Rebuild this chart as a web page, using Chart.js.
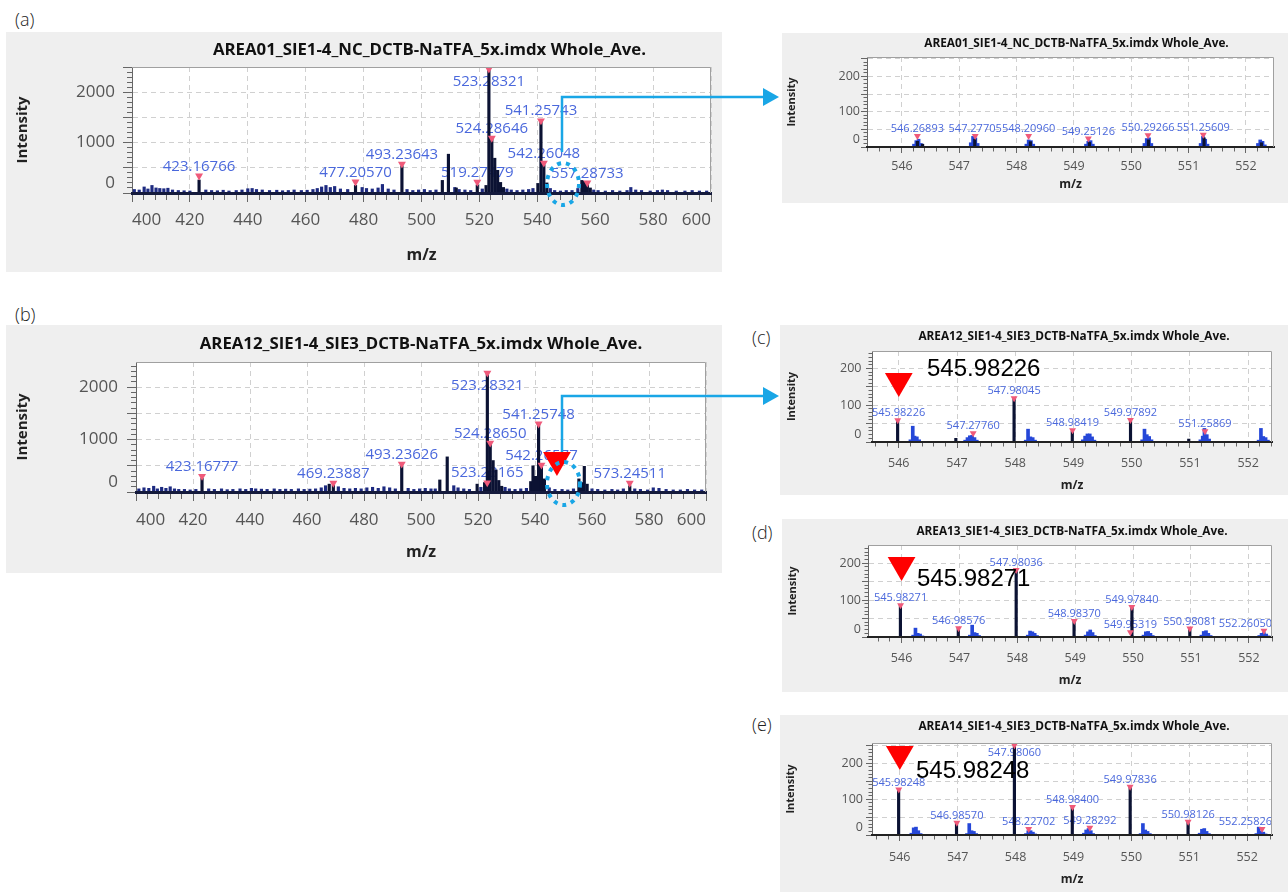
<!DOCTYPE html>
<html><head><meta charset="utf-8">
<script src="https://cdn.jsdelivr.net/npm/chart.js@4.4.1/dist/chart.umd.min.js"></script>
<style>
html,body{margin:0;padding:0;background:#fff;}
body{width:1288px;height:892px;position:relative;overflow:hidden;font-family:'Open Sans',sans-serif;}
.box{position:absolute;background:#efefef;}
.box canvas{display:block;}
.tag{position:absolute;font-size:18px;font-weight:300;color:#222;line-height:20px;}
.big{position:absolute;font-family:'Liberation Sans',Arial,sans-serif;font-size:24px;line-height:24px;color:#000;}
svg{position:absolute;left:0;top:0;pointer-events:none;}
</style></head><body>

<div class="tag" style="left:15px;top:9px">(a)</div>
<div class="tag" style="left:15px;top:304px">(b)</div>
<div class="tag" style="left:752px;top:327px">(c)</div>
<div class="tag" style="left:752px;top:522px">(d)</div>
<div class="tag" style="left:752px;top:714px">(e)</div>

<div class="box" style="left:6px;top:32px;width:716px;height:240px"><canvas id="cA" width="716" height="240"></canvas></div>
<div class="box" style="left:6px;top:325px;width:716px;height:248px"><canvas id="cB" width="716" height="248"></canvas></div>
<div class="box" style="left:782px;top:33px;width:506px;height:170px"><canvas id="cZ" width="506" height="170"></canvas></div>
<div class="box" style="left:780px;top:325px;width:508px;height:170px"><canvas id="cC" width="508" height="170"></canvas></div>
<div class="box" style="left:782px;top:519px;width:506px;height:173px"><canvas id="cD" width="506" height="173"></canvas></div>
<div class="box" style="left:780px;top:715px;width:508px;height:177px"><canvas id="cE" width="508" height="177"></canvas></div>

<div class="big" id="bigC" style="left:927px;top:356px"></div>
<div class="big" id="bigD" style="left:917px;top:566px"></div>
<div class="big" id="bigE" style="left:916px;top:758px"></div>

<svg width="1288" height="892">
  <g fill="none" stroke="#19a6e6">
    <ellipse cx="563" cy="184" rx="16" ry="21" stroke-width="4" stroke-dasharray="4 5"/>
    <polyline points="562,152 562,97 766,97" stroke-width="2.5"/>
    <ellipse cx="563.5" cy="483.5" rx="16.5" ry="21.5" stroke-width="4" stroke-dasharray="4 5"/>
    <polyline points="562,452 562,396 766,396" stroke-width="2.5"/>
  </g>
  <polygon points="763,88 779,97 763,106" fill="#19a6e6"/>
  <polygon points="763,387 779,396 763,405" fill="#19a6e6"/>
</svg>

<script>
// ---------- tick labels ----------
const wideXLabels = [400,420,440,460,480,500,520,540,560,580,600];
const wideYLabels = [0,1000,2000];
const zoomXLabels = [546,547,548,549,550,551,552];
const zoomYLabels = [0,100,200];

// ---------- titles ----------
const A_title = 'AREA01_SIE1-4_NC_DCTB-NaTFA_5x.imdx Whole_Ave.';
const B_title = 'AREA12_SIE1-4_SIE3_DCTB-NaTFA_5x.imdx Whole_Ave.';
const Z_title = 'AREA01_SIE1-4_NC_DCTB-NaTFA_5x.imdx Whole_Ave.';
const C_title = 'AREA12_SIE1-4_SIE3_DCTB-NaTFA_5x.imdx Whole_Ave.';
const D_title = 'AREA13_SIE1-4_SIE3_DCTB-NaTFA_5x.imdx Whole_Ave.';
const E_title = 'AREA14_SIE1-4_SIE3_DCTB-NaTFA_5x.imdx Whole_Ave.';

// ---------- panel (a) ----------
const A_noiseX = [400.8,402.5,404.2,405.5,406.9,408.3,409.6,411.0,412.4,414.0,
                  416.0,418.0,420.0,425.5,427.5,429.5,431.5,433.5,436.0,438.0,
                  440.0,441.5,443.0,445.0,447.5,450.0,452.0,454.0,456.0,458.5,
                  460.5,462.5,464.0,465.5,467.0,468.5,470.0,472.0,474.5,479.5,
                  481.0,483.0,485.0,486.5,488.5,490.5,495.0,497.0,499.0,501.0,
                  503.0,505.0,511.5,513.0,515.0,517.0,521.0,529.5,531.0,533.0,
                  535.0,537.0,538.5,544.5,546.0,548.0,550.0,552.0,554.0,559.5,
                  561.0,563.5,566.0,568.5,571.0,572.3,574.0,576.0,579.0,581.5,
                  583.2,585.0,588.0,591.0,593.5,596.0,598.5];
const A_noiseY = [70,60,120,80,150,100,90,85,95,60,
                  50,45,40,60,50,45,55,40,50,60,
                  85,90,70,60,50,55,45,50,60,50,
                  55,70,90,120,150,110,130,80,70,110,
                  90,80,100,170,80,60,70,50,60,70,
                  50,60,110,70,60,50,80,80,60,50,
                  60,70,90,90,50,40,50,50,90,60,
                  50,40,50,40,50,110,60,50,40,50,
                  60,50,40,40,50,40,40];
const A_peakX = [423.17,477.21,493.24,507.2,509.3,512.0,519.27,522.3,523.28,524.29,525.3,526.3,527.3,528.3,540.2,541.26,542.26,543.3,555.4,556.3,557.29,558.3];
const A_peakY = [258,150,540,250,770,100,160,150,2470,1080,690,450,210,110,190,1430,560,200,250,230,170,100];
const A_labText = ['423.16766','477.20570','493.23643','519.27479','523.28321','524.28646','541.25743','542.26048','557.28733'];
const A_labX = [423.16766,477.2057,493.23643,519.27479,523.28321,524.28646,541.25743,542.26048,557.28733];
const A_labY = [340,220,575,215,2460,1090,1434,595,200];

// ---------- panel (b) ----------
const B_noiseX = [401.0,402.8,404.5,406.2,407.5,409.0,410.5,412.0,413.5,415.0,
                  417.0,419.0,421.0,425.5,427.5,430.0,432.0,434.0,436.5,438.5,
                  440.5,442.0,444.0,446.0,448.5,450.5,452.5,454.5,457.0,459.0,
                  461.0,463.0,465.0,466.5,471.0,473.0,475.0,477.0,479.0,481.0,
                  483.0,485.0,487.0,489.0,491.0,495.5,497.5,499.5,501.5,503.5,
                  505.0,511.5,513.0,515.0,517.0,521.0,529.5,531.0,533.0,535.0,
                  537.0,545.0,547.0,549.5,551.5,553.5,560.0,562.0,564.5,567.0,
                  569.0,571.0,575.0,577.0,579.5,581.5,583.5,586.0,588.5,591.0,
                  593.5,596.0,598.5];
const B_noiseY = [60,80,70,110,60,90,70,100,60,50,
                  50,40,50,60,50,60,45,50,60,50,
                  70,60,55,50,60,50,55,50,60,50,
                  55,60,80,120,100,70,60,70,60,80,
                  90,70,100,80,60,70,50,60,70,60,
                  60,120,80,60,50,90,90,60,50,60,
                  70,80,50,50,40,60,60,50,40,50,
                  40,60,60,50,40,80,70,50,40,40,
                  50,40,40];
const B_peakX = [423.17,467.8,469.24,493.24,506.6,509.2,519.7,522.3,523.28,523.9,524.29,525.3,526.3,527.3,528.3,538.5,539.3,540.2,541.26,542.26,543.3,555.4,556.3,557.3,558.3,573.25];
const B_peakY = [260,150,130,500,230,670,150,180,2290,400,920,600,420,220,110,200,500,300,1290,480,250,250,180,490,150,120];
const B_labText = ['423.16777','469.23887','493.23626','523.28321','523.23165','524.28650','541.25748','542.26577','573.24511'];
const B_labX = [423.16777,469.23887,493.23626,523.28321,523.23165,524.2865,541.25748,542.26577,573.24511];
const B_labY = [300,170,534,2270,177,935,1300,515,170];
const B_bigX = [547.7];
const B_bigY = [610];

// ---------- top-right zoom of (a) ----------
const Z_blueX = [546.21,546.25,546.29,546.33, 547.20,547.24,547.28,547.32, 548.17,548.21,548.25,548.29,
                 549.21,549.25,549.29,549.33, 550.23,550.27,550.31,550.35, 551.21,551.25,551.29,551.33,
                 552.21,552.25,552.29,552.33];
const Z_blueY = [8,18,22,10, 12,30,26,10, 8,20,18,8, 8,16,18,8, 10,24,26,10, 10,30,22,8, 10,20,16,6];
const Z_peakX = [546.27,546.36,547.27,548.24,549.27,550.30,551.27,552.27];
const Z_peakY = [16,8,22,15,13,20,26,12];
const Z_labText = ['546.26893','547.27705','548.20960','549.25126','550.29266','551.25609'];
const Z_labX = [546.26893,547.27705,548.2096,549.25126,550.29266,551.25609];
const Z_labY = [31,31,31,24,33,35];

// ---------- panel (c) ----------
const C_peakX = [545.98,546.98,547.98,548.98,549.98,550.98];
const C_peakY = [56,10,117,29,57,8];
const C_blueX = [546.20,546.24,546.27,546.31,546.35, 547.14,547.18,547.22,547.26,547.30,547.34,
                 548.18,548.22,548.26,548.30,548.34, 549.16,549.20,549.24,549.28,549.32,549.36,
                 550.18,550.22,550.26,550.30,550.34, 551.18,551.22,551.25,551.29,551.33,
                 552.18,552.22,552.26,552.30,552.34];
const C_blueY = [6,43,16,14,6, 5,12,17,18,12,5, 5,35,14,12,5, 6,16,22,22,14,5, 6,35,20,15,6, 6,16,37,20,8, 5,37,15,12,5];
const C_labText = ['545.98226','547.27760','547.98045','548.98419','549.97892','551.25869'];
const C_labX = [545.98226,547.2776,547.98045,548.98419,549.97892,551.25869];
const C_labY = [59,24,119,32,60,29];
const C_bigX = [546.0];
const C_bigY = [166];
const C_bigText = '545.98226';

// ---------- panel (d) ----------
const D_peakX = [545.98,546.98,547.98,548.98,549.98,550.98];
const D_peakY = [86,24,181,43,81,21];
const D_blueX = [546.20,546.24,546.28,546.32,546.36, 547.18,547.22,547.26,547.30,547.34,
                 548.18,548.22,548.26,548.30,548.34, 549.18,549.22,549.26,549.30,549.34,
                 550.18,550.22,550.26,550.30,550.34, 551.18,551.22,551.26,551.30,551.34,
                 552.18,552.22,552.26,552.30,552.34];
const D_blueY = [5,24,10,8,3, 5,32,12,10,4, 5,16,14,10,4, 5,14,19,12,4, 5,14,15,10,4, 5,15,17,10,4, 4,10,12,8,3];
const D_labText = ['545.98271','546.98576','547.98036','548.98370','549.95319','549.97840','550.98081','552.26050'];
const D_labX = [545.98271,546.98576,547.98036,548.9837,549.95319,549.9784,550.98081,552.2605];
const D_labY = [86,24,181,43,13,81,23,17];
const D_bigX = [546.0];
const D_bigY = [195];
const D_bigText = '545.98271';

// ---------- panel (e) ----------
const E_peakX = [545.98,546.98,547.98,548.98,549.98,550.98];
const E_peakY = [126,34,251,78,135,37];
const E_blueX = [546.20,546.24,546.28,546.32,546.36, 547.16,547.20,547.24,547.28,547.32,
                 548.18,548.22,548.26,548.30,548.34, 549.18,549.22,549.26,549.30,549.34,
                 550.16,550.20,550.24,550.28,550.32, 551.18,551.22,551.26,551.30,551.34,
                 552.16,552.20,552.24,552.28,552.32];
const E_blueY = [5,20,22,12,4, 4,32,12,10,4, 4,12,12,8,3, 5,14,18,12,4, 4,32,14,10,4, 5,16,18,10,4, 4,22,10,8,3];
const E_labText = ['545.98248','546.98570','547.98060','548.22702','548.98400','549.28292','549.97836','550.98126','552.25826'];
const E_labX = [545.98248,546.9857,547.9806,548.22702,548.984,549.28292,549.97836,550.98126,552.25826];
const E_labY = [127,34,251,17,78,20,135,37,17];
const E_bigX = [546.0];
const E_bigY = [226];
const E_bigText = '545.98248';

document.getElementById('bigC').textContent = C_bigText;
document.getElementById('bigD').textContent = D_bigText;
document.getElementById('bigE').textContent = E_bigText;

// ---------- drawing ----------
Chart.defaults.font.family = "'Open Sans', sans-serif";
Chart.defaults.color = '#555';

const FONT = "'Open Sans', sans-serif";
const zip = (xs, ys) => xs.map((x, i) => ({x: x, y: ys[i]}));
const isMaj = (v, m) => Math.abs(v / m - Math.round(v / m)) < 1e-6;
const near = (arr, v) => arr.some(a => Math.abs(a - v) < 1e-6);
function stepTicks(min, max, step) {
  const out = [];
  for (let k = Math.ceil(min / step - 1e-9); k * step <= max + 1e-9; k++) out.push(+(k * step).toFixed(4));
  return out;
}

const WIDE = {xStep:4, xMajor:20, yStep:100, yGrid:500, tl:9, tlMinor:5, tickFs:17, xAlign:'inner',
  ytFs:15, xtFs:16, titleFs:16.8, labFs:15, labOff:9.5, labBelow:12.5, markR:4.6, peakW:2.5, noiseW:2.5,
  axisW:3, axisColor:'#141a3c', xLabels:wideXLabels, yLabels:wideYLabels, titleDx:0};
const ZOOM = {xStep:0.2, xMajor:1, yStep:10, yGrid:50, tl:6, tlMinor:3.5, tickFs:12.5, xAlign:'center',
  ytFs:11, xtFs:12, titleFs:11.8, labFs:11, labOff:7, labBelow:8, markR:4, peakW:2.5, blueW:3,
  axisW:2, axisColor:'#222', xLabels:zoomXLabels, yLabels:zoomYLabels, titleDx:2};

function deco(P) {
  return {
    id: 'deco_' + P.id,
    beforeDraw(chart) {
      const {ctx, chartArea: ca} = chart;
      ctx.save(); ctx.fillStyle = '#ffffff';
      ctx.fillRect(ca.left, ca.top, ca.right - ca.left, ca.bottom - ca.top);
      ctx.restore();
    },
    beforeDatasetsDraw(chart) {
      const {ctx, chartArea: ca, scales: {x, y}} = chart;
      ctx.save();
      ctx.beginPath(); ctx.rect(ca.left, ca.top, ca.right - ca.left, ca.bottom - ca.top); ctx.clip();
      ctx.font = P.labFs + 'px ' + FONT;
      ctx.fillStyle = '#4a68dc'; ctx.textAlign = 'center'; ctx.textBaseline = 'middle';
      P.labText.forEach((t, i) => {
        const px = x.getPixelForValue(P.labX[i]), py = y.getPixelForValue(P.labY[i]);
        const w = ctx.measureText(t).width;
        const cx = Math.min(Math.max(px, ca.left + w / 2), ca.right - w / 2);
        let cy = py - P.labOff;
        if (cy - P.labFs * 0.6 < ca.top) cy = py + P.labBelow;
        ctx.fillText(t, cx, cy);
      });
      ctx.restore();
    },
    afterDraw(chart) {
      const {ctx, chartArea: ca} = chart;
      ctx.save();
      ctx.strokeStyle = '#a0a0a0'; ctx.lineWidth = 1;
      ctx.beginPath();
      ctx.moveTo(ca.left, ca.top + 0.5); ctx.lineTo(ca.right - 0.5, ca.top + 0.5); ctx.lineTo(ca.right - 0.5, ca.bottom);
      ctx.stroke();
      ctx.font = 'bold ' + P.titleFs + 'px ' + FONT;
      ctx.fillStyle = '#111'; ctx.textAlign = 'center'; ctx.textBaseline = 'middle';
      ctx.fillText(P.title, (ca.left + ca.right) / 2 + P.titleDx, P.titleY);
      ctx.restore();
    }
  };
}

function panel(P) {
  const ds = [];
  if (P.noiseX) ds.push({type:'bar', data: zip(P.noiseX, P.noiseY), backgroundColor:'#1d2a80', barThickness:P.noiseW, grouped:false, order:4});
  if (P.blueX) ds.push({type:'bar', data: zip(P.blueX, P.blueY), backgroundColor:'#2547d8', barThickness:P.blueW, grouped:false, order:3});
  ds.push({type:'bar', data: zip(P.peakX, P.peakY), backgroundColor:'#0b1233', barThickness:P.peakW, grouped:false, order:2});
  ds.push({type:'scatter', data: zip(P.labX, P.labY), pointStyle:'triangle', pointRotation:180, pointRadius:P.markR,
           pointBackgroundColor:'#ef5a7a', pointBorderWidth:0, order:1});
  if (P.bigX) ds.push({type:'scatter', data: zip(P.bigX, P.bigY), pointStyle:'triangle', pointRotation:180, pointRadius:16,
           pointBackgroundColor:'#ff0000', pointBorderWidth:0, order:0});
  const xTicks = stepTicks(P.xmin, P.xmax, P.xStep);
  const yTicks = stepTicks(P.ymin, P.ymax, P.yStep);
  new Chart(document.getElementById(P.id), {
    type: 'bar',
    data: {datasets: ds},
    plugins: [deco(P)],
    options: {
      responsive: false, animation: false, events: [],
      layout: {padding: {top: P.padTop, right: P.padRight, left: 0, bottom: 0}},
      plugins: {legend: {display: false}, tooltip: {enabled: false}, title: {display: false}},
      scales: {
        x: {
          type: 'linear', min: P.xmin, max: P.xmax, offset: false,
          afterBuildTicks: s => { s.ticks = xTicks.map(v => ({value: v})); },
          afterFit: s => { s.height = P.xAxisH; },
          ticks: {autoSkip: false, maxRotation: 0, minRotation: 0, align: P.xAlign, padding: P.xPad, color: '#555',
                  font: {size: P.tickFs}, callback: v => near(P.xLabels, v) ? String(Math.round(v)) : ''},
          grid: {offset: false,
                 color: c => (c.tick && isMaj(c.tick.value, P.xMajor)) ? '#d0d0d0' : 'rgba(0,0,0,0)',
                 tickColor: '#666', tickLength: P.tl, tickWidth: 1,
                 tickBorderDash: c => (c.tick && isMaj(c.tick.value, P.xMajor)) ? [] : [P.tlMinor, 100]},
          border: {display: true, color: P.axisColor, width: P.axisW, dash: [5, 4], z: 1},
          title: {display: true, text: 'm/z', color: '#222', font: {size: P.xtFs, weight: 'bold'}, padding: {top: 0, bottom: P.xtPad}}
        },
        y: {
          type: 'linear', min: P.ymin, max: P.ymax,
          afterBuildTicks: s => { s.ticks = yTicks.map(v => ({value: v})); },
          afterFit: s => { s.width = P.yAxisW; },
          ticks: {autoSkip: false, padding: P.yPad, color: '#555', font: {size: P.tickFs},
                  callback: v => near(P.yLabels, v) ? (Math.abs(v) < 1e-9 ? ['0', ''] : String(Math.round(v))) : ''},
          grid: {color: c => (c.tick && isMaj(c.tick.value, P.yGrid)) ? '#d0d0d0' : 'rgba(0,0,0,0)',
                 tickColor: '#666', tickLength: P.tl, tickWidth: 1,
                 tickBorderDash: c => (c.tick && isMaj(c.tick.value, P.yGrid)) ? [] : [0, P.tl - P.tlMinor, P.tlMinor, 100]},
          border: {display: true, color: '#666', width: 1, dash: [5, 4]},
          title: {display: true, text: 'Intensity', color: '#222', font: {size: P.ytFs, weight: 'bold'}, padding: {top: P.ytPad, bottom: 0}}
        }
      }
    }
  });
}

panel(Object.assign({}, WIDE, {id:'cA', title:A_title, titleY:18, titleDx:8, xmin:400, xmax:600, ymin:0, ymax:2500,
  yAxisW:126, xAxisH:79, padTop:35, padRight:11, xPad:8, yPad:8, ytPad:8, xtPad:7.4,
  noiseX:A_noiseX, noiseY:A_noiseY, peakX:A_peakX, peakY:A_peakY, labText:A_labText, labX:A_labX, labY:A_labY}));
panel(Object.assign({}, WIDE, {id:'cB', title:B_title, titleY:19, xmin:400, xmax:600, ymin:0, ymax:2480,
  yAxisW:130, xAxisH:81, padTop:37, padRight:12, xPad:9, yPad:9, ytPad:8, xtPad:11.4,
  noiseX:B_noiseX, noiseY:B_noiseY, peakX:B_peakX, peakY:B_peakY, labText:B_labText, labX:B_labX, labY:B_labY,
  bigX:B_bigX, bigY:B_bigY}));
panel(Object.assign({}, ZOOM, {id:'cZ', title:Z_title, titleY:11, titleDx:6, xmin:545.39, xmax:552.49, ymin:0, ymax:255,
  yAxisW:85, xAxisH:56, padTop:24, padRight:14, xPad:6, yPad:1, ytPad:3.4, xtPad:10.8,
  blueX:Z_blueX, blueY:Z_blueY, peakX:Z_peakX, peakY:Z_peakY, labText:Z_labText, labX:Z_labX, labY:Z_labY}));
panel(Object.assign({}, ZOOM, {id:'cC', title:C_title, titleY:12, xmin:545.54, xmax:552.41, ymin:0, ymax:248,
  yAxisW:92, xAxisH:53, padTop:26, padRight:11, xPad:7.5, yPad:4.5, ytPad:5.4, xtPad:1.8,
  blueX:C_blueX, blueY:C_blueY, peakX:C_peakX, peakY:C_peakY, labText:C_labText, labX:C_labX, labY:C_labY,
  bigX:C_bigX, bigY:C_bigY}));
panel(Object.assign({}, ZOOM, {id:'cD', title:D_title, titleY:13, xmin:545.42, xmax:552.40, ymin:0, ymax:249,
  yAxisW:86, xAxisH:55, padTop:26, padRight:10, xPad:7.5, yPad:1, ytPad:4.4, xtPad:3.8,
  blueX:D_blueX, blueY:D_blueY, peakX:D_peakX, peakY:D_peakY, labText:D_labText, labX:D_labX, labY:D_labY,
  bigX:D_bigX, bigY:D_bigY}));
panel(Object.assign({}, ZOOM, {id:'cE', title:E_title, titleY:12, xmin:545.52, xmax:552.43, ymin:0, ymax:257,
  yAxisW:92, xAxisH:57, padTop:28, padRight:10, xPad:8.5, yPad:3, ytPad:3.9, xtPad:4.8,
  blueX:E_blueX, blueY:E_blueY, peakX:E_peakX, peakY:E_peakY, labText:E_labText, labX:E_labX, labY:E_labY,
  bigX:E_bigX, bigY:E_bigY}));
</script>
</body></html>
